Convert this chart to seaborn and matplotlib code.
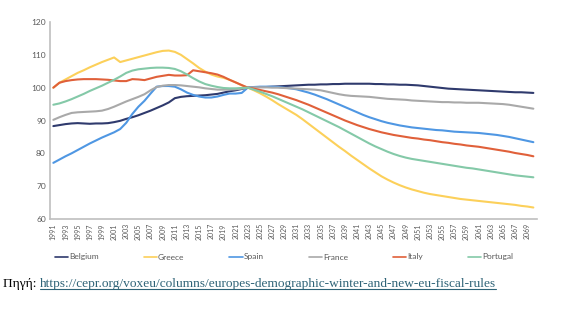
import numpy as np
import pandas as pd
import matplotlib
matplotlib.use("Agg")
import matplotlib.pyplot as plt
import seaborn as sns

years = list(range(1991, 2071))

belgium = [88.3, 88.6, 88.9, 89.1, 89.2, 89.1, 89.0, 89.1, 89.1, 89.2,
           89.5, 89.9, 90.5, 91.0, 91.6, 92.3, 93.0, 93.8, 94.6, 95.5,
           96.8, 97.2, 97.4, 97.5, 97.6, 97.7, 97.9, 98.1, 98.5, 98.9,
           99.2, 99.6, 100.0, 100.1, 100.2, 100.2, 100.3, 100.4, 100.5, 100.6,
           100.7, 100.8, 100.9, 100.9, 101.0, 101.0, 101.1, 101.1, 101.2, 101.2,
           101.2, 101.2, 101.2, 101.1, 101.1, 101.0, 101.0, 100.9, 100.9, 100.8,
           100.7, 100.5, 100.3, 100.1, 99.9, 99.7, 99.6, 99.5, 99.4, 99.3,
           99.2, 99.1, 99.0, 98.9, 98.8, 98.7, 98.6, 98.6, 98.5, 98.4]

greece = [100.0, 101.5, 102.5, 103.5, 104.5, 105.3, 106.2, 107.0, 107.8, 108.5,
          109.2, 107.8, 108.3, 108.8, 109.3, 109.8, 110.3, 110.8, 111.2, 111.3,
          110.9, 110.0, 108.7, 107.4, 106.0, 104.9, 104.0, 103.4, 103.0, 102.4,
          101.6, 100.7, 100.0, 99.2, 98.3, 97.3, 96.2, 95.0, 93.9, 92.8,
          91.7, 90.4, 89.0, 87.6, 86.2, 84.8, 83.4, 82.0, 80.7, 79.3,
          78.0, 76.7, 75.4, 74.2, 73.0, 72.0, 71.1, 70.3, 69.6, 69.0,
          68.5, 68.0, 67.6, 67.3, 67.0, 66.7, 66.4, 66.1, 65.9, 65.7,
          65.5, 65.3, 65.1, 64.9, 64.7, 64.5, 64.3, 64.0, 63.8, 63.5]

spain = [77.1, 78.1, 79.1, 80.0, 81.0, 82.0, 83.0, 83.9, 84.8, 85.6,
         86.4, 87.4, 89.3, 92.0, 94.2, 96.0, 98.2, 100.3, 100.5, 100.5,
         100.3, 99.5, 98.5, 97.8, 97.3, 97.0, 97.0, 97.3, 97.8, 98.2,
         98.2, 98.4, 100.0, 100.2, 100.3, 100.3, 100.3, 100.2, 100.0, 99.8,
         99.5, 99.0, 98.5, 97.9, 97.2, 96.5, 95.7, 94.9, 94.1, 93.3,
         92.5, 91.7, 91.0, 90.4, 89.8, 89.3, 88.9, 88.5, 88.2, 87.9,
         87.7, 87.5, 87.3, 87.1, 87.0, 86.8, 86.6, 86.5, 86.4, 86.3,
         86.2, 86.0, 85.8, 85.6, 85.3, 85.0, 84.6, 84.2, 83.8, 83.4]

france = [90.2, 91.0, 91.7, 92.3, 92.5, 92.6, 92.7, 92.8, 93.0, 93.5,
          94.2, 95.0, 95.8, 96.5, 97.2, 98.0, 99.2, 100.2, 100.6, 100.8,
          100.8, 100.7, 100.5, 100.3, 100.1, 99.8, 99.6, 99.4, 99.4, 99.4,
          99.5, 99.7, 100.0, 100.1, 100.1, 100.1, 100.0, 100.0, 99.9, 99.8,
          99.7, 99.6, 99.5, 99.4, 99.2, 98.8, 98.4, 98.0, 97.7, 97.5,
          97.4, 97.3, 97.2, 97.0, 96.8, 96.6, 96.5, 96.4, 96.3, 96.1,
          96.0, 95.9, 95.8, 95.7, 95.6, 95.6, 95.5, 95.5, 95.4, 95.4,
          95.4, 95.3, 95.2, 95.1, 95.0, 94.8, 94.5, 94.2, 93.9, 93.6]

italy = [100.0, 101.5, 102.0, 102.3, 102.5, 102.6, 102.6, 102.6, 102.5, 102.4,
         102.2, 102.0, 102.0, 102.6, 102.5, 102.3, 102.8, 103.3, 103.6, 103.9,
         103.7, 103.7, 103.8, 105.3, 105.0, 104.7, 104.4, 104.0, 103.3, 102.4,
         101.6, 100.8, 100.0, 99.7, 99.3, 98.9, 98.5, 98.0, 97.4, 96.8,
         96.2, 95.5, 94.8, 94.0, 93.2, 92.4, 91.6, 90.8, 90.0, 89.3,
         88.6, 88.0, 87.4, 86.9, 86.4, 86.0, 85.6, 85.3, 85.0, 84.7,
         84.5, 84.2, 84.0, 83.7, 83.4, 83.2, 82.9, 82.7, 82.4, 82.2,
         82.0, 81.7, 81.4, 81.1, 80.8, 80.5, 80.1, 79.8, 79.5, 79.1]

portugal = [94.8, 95.2, 95.8, 96.5, 97.3, 98.1, 99.0, 99.8, 100.6, 101.5,
            102.4, 103.4, 104.5, 105.2, 105.6, 105.8, 106.0, 106.1, 106.1, 106.0,
            105.7, 105.0, 104.0, 102.9, 101.9, 101.1, 100.6, 100.2, 99.9, 99.8,
            99.8, 99.9, 100.0, 99.4, 98.8, 98.1, 97.4, 96.6, 95.8, 95.0,
            94.2, 93.4, 92.5, 91.6, 90.7, 89.8, 88.9, 88.0, 87.0, 86.0,
            85.0, 84.0, 83.0, 82.1, 81.3, 80.5, 79.8, 79.2, 78.7, 78.3,
            78.0, 77.7, 77.4, 77.1, 76.8, 76.5, 76.2, 75.9, 75.6, 75.4,
            75.1, 74.8, 74.5, 74.2, 73.9, 73.6, 73.3, 73.1, 72.9, 72.7]

countries = ["Belgium", "Greece", "Spain", "France", "Italy", "Portugal"]
series = [belgium, greece, spain, france, italy, portugal]
colors = ["#2f3a6d", "#fcd05a", "#4f97e3", "#a9a9a9", "#e0603a", "#84c9a8"]

xtick_years = list(range(1991, 2070, 2))
ytick_vals = [60, 70, 80, 90, 100, 110, 120]

df = pd.DataFrame({
    "year": years * len(countries),
    "value": sum(series, []),
    "country": sum([[c] * len(years) for c in countries], []),
})

sns.set_theme(style="white")
plt.rcParams["font.family"] = ["Lato", "DejaVu Sans"]

fig = plt.figure(figsize=(5.73, 3.30), dpi=100)
ax = fig.add_axes([50 / 573, 1 - 219 / 330, (537 - 50) / 573, (219 - 22) / 330])

sns.lineplot(data=df, x="year", y="value", hue="country", hue_order=countries,
             palette=dict(zip(countries, colors)), linewidth=1.5, ax=ax)

ax.set_xlim(1990.45, 2070.6)
ax.set_ylim(60, 120)
ax.set_xticks(xtick_years)
ax.set_xticklabels([str(y) for y in xtick_years], rotation=90, fontsize=5, color="#595959")
ax.set_yticks(ytick_vals)
ax.set_yticklabels([str(v) for v in ytick_vals], fontsize=6, color="#595959")
ax.tick_params(axis="both", length=0, pad=3)
ax.set_xlabel("")
ax.set_ylabel("")
for s in ["top", "right"]:
    ax.spines[s].set_visible(False)
for s in ["left", "bottom"]:
    ax.spines[s].set_color("#bfbfbf")
    ax.spines[s].set_linewidth(1.2)

handles, labels = ax.get_legend_handles_labels()
ax.get_legend().remove()
leg = fig.legend(handles, labels, loc="center", bbox_to_anchor=(284 / 573, 1 - 257 / 330),
                 ncol=6, frameon=False, fontsize=6, handlelength=1.6, handletextpad=0.1,
                 columnspacing=5.4, labelcolor="#595959")
for h in leg.get_lines():
    h.set_linewidth(1.2)

t1 = fig.text(3 / 573, 1 - 284 / 330, "Πηγή: ", fontsize=9.6, va="center",
              family=["Liberation Serif", "DejaVu Serif"], color="black")
fig.canvas.draw()
bb = t1.get_window_extent()
x_url = bb.x1 / fig.bbox.width
t2 = fig.text(x_url, 1 - 284 / 330,
              "https://cepr.org/voxeu/columns/europes-demographic-winter-and-new-eu-fiscal-rules",
              fontsize=9.6, va="center", family=["Liberation Serif", "DejaVu Serif"],
              color="#2e6377")
fig.canvas.draw()
bb2 = t2.get_window_extent()
uy = (bb2.y0 + 1.5) / fig.bbox.height
fig.add_artist(plt.Line2D([bb2.x0 / fig.bbox.width, bb2.x1 / fig.bbox.width], [uy, uy],
                          color="#2e6377", linewidth=0.8, transform=fig.transFigure))

fig.savefig("out.png", dpi=100)
